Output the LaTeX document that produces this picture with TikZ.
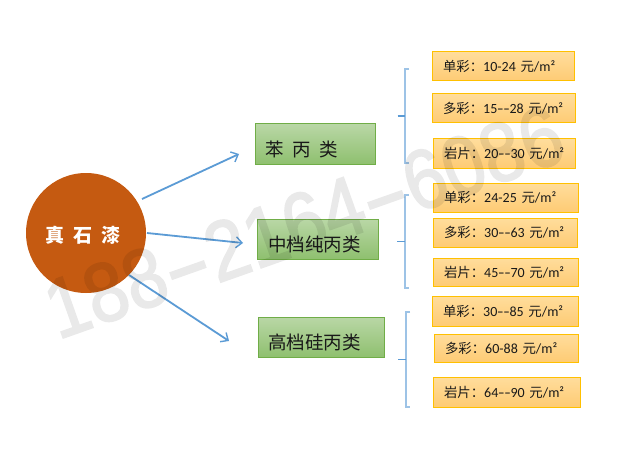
\documentclass[tikz,border=0pt]{standalone}
\usepackage{fontspec}
\setmainfont[Ligatures=NoCommon]{Carlito}
\newfontfamily\cjk{Noto Sans CJK SC}
\newfontfamily\wmfont[FakeBold=2]{Liberation Sans}
\usetikzlibrary{arrows.meta,shadings}
\definecolor{arrowblue}{HTML}{5B9BD5}
\definecolor{bracketblue}{HTML}{9DC3E6}
\definecolor{orangeedge}{HTML}{FFC000}
\definecolor{orangetop}{HTML}{FFDD9C}
\definecolor{orangebot}{HTML}{FECB74}
\definecolor{greenedge}{HTML}{70AD47}
\definecolor{greentop}{HTML}{B9D7A6}
\definecolor{greenbot}{HTML}{8FC06F}
\definecolor{rootfill}{HTML}{C55A11}
\tikzset{
  pricebox/.style={draw=orangeedge,line width=1pt,top color=orangetop,bottom color=orangebot,
    inner xsep=11pt,inner ysep=0pt,align=left,font=\fontsize{14}{16}\selectfont,text=black!90},
  typebox/.style={draw=greenedge,line width=1pt,top color=greentop,bottom color=greenbot,
    inner xsep=10pt,inner ysep=0pt,align=left,font=\cjk\fontsize{18.5}{20}\selectfont,text=black!90},
  mainarrow/.style={draw=arrowblue,line width=1.8pt,-{Straight Barb[length=6pt,width=11pt,line width=1.4pt]}},
  bracketline/.style={draw=bracketblue,line width=1.3pt},
  brackettick/.style={draw=arrowblue,line width=1pt}
}
\newcommand{\cj}[1]{{\cjk\fontsize{13.4}{15}\selectfont #1}}
\newcommand{\dbldash}{\scalebox{1.4}[1]{-}\kern0.2pt\scalebox{1.4}[1]{-}}
\newcommand{\price}[2]{\mbox{\cj{#1：}#2 \cj{元}/m²}}
\begin{document}
\begin{tikzpicture}[x=1pt,y=-1pt]
\useasboundingbox (0,0) rectangle (630,460);
\fill[white] (0,0) rectangle (630,460);

% main circle
\node[circle,fill=rootfill,minimum size=120pt,inner sep=0pt,
  text=white,font=\cjk\bfseries\fontsize{19}{21}\selectfont] (root) at (86,233) {\raisebox{-9.5pt}[0pt][0pt]{\hspace{-6pt}真\hspace{9pt}石\hspace{9pt}漆}};

% type boxes
\node[typebox,minimum width=120pt,minimum height=40pt,text width=100pt] (t1) at (315,144) {\raisebox{-12.5pt}[0pt][0pt]{苯\hspace{9pt}丙\hspace{9pt}类}};
\node[typebox,minimum width=121pt,minimum height=40pt,text width=101pt] (t2) at (317.5,239) {\raisebox{-12.5pt}[0pt][0pt]{\hspace{1pt}中档纯丙类}};
\node[typebox,minimum width=126pt,minimum height=40pt,text width=106pt] (t3) at (321,337) {\raisebox{-12.5pt}[0pt][0pt]{高档硅丙类}};

% arrow ends
\coordinate (a1s) at (142,199); \coordinate (a1e) at (239,154);
\coordinate (a2s) at (147,233); \coordinate (a2e) at (243,243);
\coordinate (a3s) at (129,275); \coordinate (a3e) at (229,341);
\draw[mainarrow] (a1s) -- (a1e);
\draw[mainarrow] (a2s) -- (a2e);
\draw[mainarrow] (a3s) -- (a3e);

% price boxes
\node[pricebox,minimum width=142pt,minimum height=29pt,text width=120pt] (p11) at (503,66.5) {\price{单彩}{10-24}};
\node[pricebox,minimum width=143pt,minimum height=29pt,text width=121pt] (p12) at (503.5,108.5) {\price{多彩}{15\dbldash28}};
\node[pricebox,minimum width=142pt,minimum height=29pt,text width=120pt] (p13) at (504,153.5) {\price{岩片}{20\dbldash30}};
\node[pricebox,minimum width=145pt,minimum height=29pt,text width=123pt] (p21) at (505.5,197.5) {\price{单彩}{24-25}};
\node[pricebox,minimum width=144pt,minimum height=29pt,text width=122pt] (p22) at (505,232.5) {\price{多彩}{30\dbldash63}};
\node[pricebox,minimum width=145pt,minimum height=28pt,text width=123pt] (p23) at (505.5,272) {\price{岩片}{45\dbldash70}};
\node[pricebox,minimum width=146pt,minimum height=30pt,text width=124pt] (p31) at (505,311) {\price{单彩}{30\dbldash85}};
\node[pricebox,minimum width=144pt,minimum height=28pt,text width=122pt] (p32) at (506,348) {\price{多彩}{60-88}};
\node[pricebox,minimum width=147pt,minimum height=30pt,text width=125pt] (p33) at (506.5,392) {\price{岩片}{64\dbldash90}};

% brackets
\coordinate (b1t) at (409,69);  \coordinate (b1a) at (405,69);  \coordinate (b1b) at (405,163); \coordinate (b1e) at (409,163);
\coordinate (b1m) at (405,116); \coordinate (b1o) at (397.5,116);
\coordinate (b2t) at (409,195); \coordinate (b2a) at (405,195); \coordinate (b2b) at (405,288); \coordinate (b2e) at (409,288);
\coordinate (b2m) at (405,241); \coordinate (b2o) at (397,241);
\coordinate (b3t) at (410,312); \coordinate (b3a) at (406,312); \coordinate (b3b) at (406,407); \coordinate (b3e) at (410,407);
\coordinate (b3m) at (406,359); \coordinate (b3o) at (398,359);
\draw[bracketline] (b1t) -- (b1a) -- (b1b) -- (b1e);
\draw[brackettick,line width=1.5pt] (b1o) -- (b1m);
\draw[bracketline] (b2t) -- (b2a) -- (b2b) -- (b2e);
\draw[brackettick] (b2o) -- (b2m);
\draw[bracketline] (b3t) -- (b3a) -- (b3b) -- (b3e);
\draw[brackettick] (b3o) -- (b3m);

% watermark
\begin{scope}[transparency group,opacity=0.085]
\node[rotate=19.5,text=black,font=\wmfont\fontsize{70}{80}\selectfont,inner sep=0pt] (wm) at (304,222) {\scalebox{1.05}[1.2]{188\scalebox{1.9}[1]{-}2164\scalebox{1.9}[1]{-}6086}};
\end{scope}
\end{tikzpicture}
\end{document}
